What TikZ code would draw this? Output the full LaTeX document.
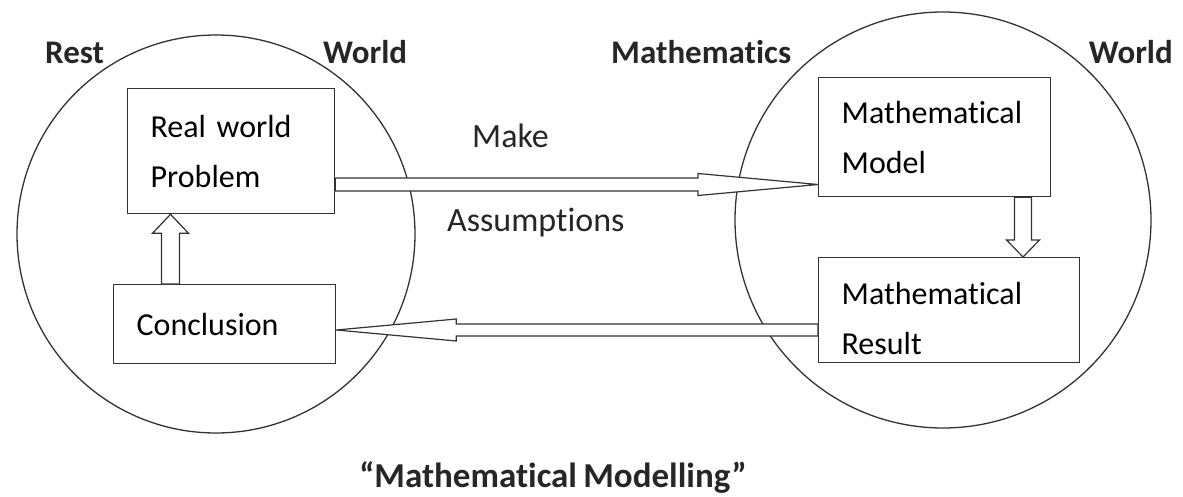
\documentclass[tikz,border=0pt]{standalone}
\usepackage{fontspec}
\setmainfont[Ligatures=NoCommon,WordSpace=0.8]{Carlito}
\usetikzlibrary{calc}

\begin{document}
\begin{tikzpicture}[x=1pt,y=-1pt,
  box/.style={draw=black!80,line width=1.3pt,anchor=north west,align=left,
    inner xsep=23pt,inner ysep=2pt,font=\fontsize{32}{50}\selectfont},
  hollow/.style={draw=black!80,fill=white,line width=1.2pt,line join=miter},
  side/.style={font=\bfseries\fontsize{33}{40}\selectfont,text=black!85,inner sep=0pt},
  note/.style={font=\fontsize{34}{40}\selectfont,text=black!85,inner sep=0pt}]
\useasboundingbox (0,0) rectangle (1183,497);
% the two worlds
\draw[black!80,line width=1.3pt] (216,234) circle[radius=199pt];
\draw[black!80,line width=1.3pt] (943,220) circle[radius=208pt];
\node[side,anchor=base west] (rest) at (45,64) {Rest};
\node[side,anchor=base west] (wl) at (323,64) {World};
\node[side,anchor=base west] (maths) at (611,64) {Mathematics};
\node[side,anchor=base east] (wr) at (1173,64) {World};
% boxes
\node[box,text width=161pt,minimum height=125pt] (rw) at (127,88) {Real world\\Problem};
\node[box,text width=176pt,minimum height=79pt] (cc) at (113,284) {Conclusion};
\node[box,text width=186pt,minimum height=119pt] (mm) at (818,77) {Mathematical\\Model};
\node[box,text width=215pt,minimum height=105pt] (mr) at (818,257) {\rule{0pt}{38pt}Mathematical\\Result};
% levels of the arrows
\coordinate (ma) at (0,184.5);
\coordinate (rb) at (0,330);
\coordinate (lx) at (170.5,0);
\coordinate (rx) at (1023,0);
\draw[hollow] ($(rw.east |- ma)+(0,-6.5)$) -- ($(mm.west |- ma)+(-120,-6.5)$) -- ++(0,-4.5)
  -- (mm.west |- ma) -- ++(-120,11) -- ++(0,-4.5) -- ($(rw.east |- ma)+(0,6.5)$) -- cycle;
\draw[hollow] ($(mr.west |- rb)+(0,-6)$) -- ($(cc.east |- rb)+(120,-6)$) -- ++(0,-5)
  -- (cc.east |- rb) -- ++(120,11) -- ++(0,-5) -- ($(mr.west |- rb)+(0,6)$) -- cycle;
\draw[hollow] ($(cc.north -| lx)+(-9,0)$) -- ($(rw.south -| lx)+(-9,19)$) -- ++(-9,0)
  -- (rw.south -| lx) -- ++(18,19) -- ++(-9,0) -- ($(cc.north -| lx)+(9,0)$) -- cycle;
\draw[hollow] ($(mm.south -| rx)+(-8.5,0)$) -- ($(mr.north -| rx)+(-8.5,-17)$) -- ++(-8,0)
  -- (mr.north -| rx) -- ++(16.5,-17) -- ++(-8,0) -- ($(mm.south -| rx)+(8.5,0)$) -- cycle;
\node[note,anchor=base west] (make) at (472,148) {Make};
\node[note,anchor=base west] (assume) at (447,232) {Assumptions};
\node[side,anchor=base,font=\bfseries\fontsize{35}{40}\selectfont] (title) at (553,487) {“Mathematical Modelling”};
\end{tikzpicture}
\end{document}
